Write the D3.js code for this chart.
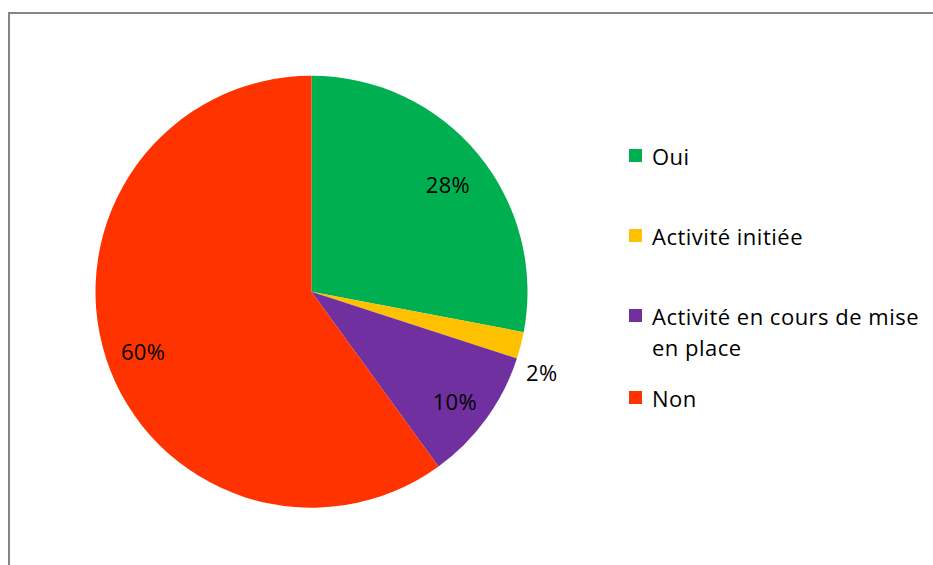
<!DOCTYPE html>
<html>
<head>
<meta charset="utf-8">
<script src="https://cdn.jsdelivr.net/npm/d3@7"></script>
<style>
  html, body { margin: 0; padding: 0; background: #fff; }
  svg { display: block; }
  text { font-family: "Open Sans", sans-serif; fill: #000; }
</style>
</head>
<body>
<svg id="chart" width="933" height="565"></svg>
<script>
// ---- data ----
const categories = ["Oui", "Activité initiée", "Activité en cours de mise en place", "Non"];
const values = [28, 2, 10, 60];
const valueLabels = ["28%", "2%", "10%", "60%"];

// ---- styles ----
const colors = ["#00B050", "#FFC000", "#7030A0", "#FF3300"];
const outsideLabel = [false, true, false, false];

const svg = d3.select("#chart");
const W = 933, H = 565;

// chart border (extends past right/bottom edges)
svg.append("rect")
  .attr("x", 9).attr("y", 13)
  .attr("width", W + 20).attr("height", H + 20)
  .attr("fill", "#fff")
  .attr("stroke", "#868686")
  .attr("stroke-width", 2);

const cx = 311.5, cy = 291.7, R = 216;
const g = svg.append("g").attr("transform", `translate(${cx},${cy})`);

const pie = d3.pie().sort(null).value(d => d)(values);
const arc = d3.arc().innerRadius(0).outerRadius(R);

g.selectAll("path.slice")
  .data(pie)
  .join("path")
  .attr("class", "slice")
  .attr("d", arc)
  .attr("fill", (d, i) => colors[i]);

const inLabelArc = d3.arc().innerRadius(R * 0.82).outerRadius(R * 0.82);
const nudge = 5 * Math.PI / 180;
g.selectAll("text.vlabel")
  .data(pie)
  .join("text")
  .attr("class", "vlabel")
  .attr("transform", (d, i) => {
    if (outsideLabel[i]) {
      const a = (d.startAngle + d.endAngle) / 2 + nudge;
      const r = R * 1.13;
      return `translate(${r * Math.sin(a)},${-r * Math.cos(a)})`;
    }
    const c = inLabelArc.centroid(d);
    return `translate(${c[0]},${c[1] + 6})`;
  })
  .attr("text-anchor", "middle")
  .attr("dy", "0.36em")
  .style("font-size", "22px")
  .style("letter-spacing", "0.3px")
  .text((d, i) => valueLabels[i]);

// ---- legend ----
const legX = 629, legTextX = 652, legY0 = 165, legStep = 80, lineH = 31, maxW = 285;
const leg = svg.append("g");
categories.forEach((name, i) => {
  const y = legY0 + i * legStep + (i === 3 ? 2 : 0);
  leg.append("rect")
    .attr("x", legX).attr("y", y - 16)
    .attr("width", 13).attr("height", 13)
    .attr("fill", colors[i]);
  const t = leg.append("text")
    .attr("x", legTextX).attr("y", y)
    .style("font-size", "22px")
    .style("letter-spacing", "0.5px");
  const words = name.split(" ");
  let line = [], tspan = t.append("tspan").attr("x", legTextX).attr("y", y);
  let lineNo = 0;
  words.forEach(w => {
    line.push(w);
    tspan.text(line.join(" "));
    if (tspan.node().getComputedTextLength() > maxW && line.length > 1) {
      line.pop();
      tspan.text(line.join(" "));
      line = [w];
      lineNo++;
      tspan = t.append("tspan").attr("x", legTextX).attr("y", y + lineNo * lineH).text(w);
    }
  });
});
</script>
</body>
</html>
